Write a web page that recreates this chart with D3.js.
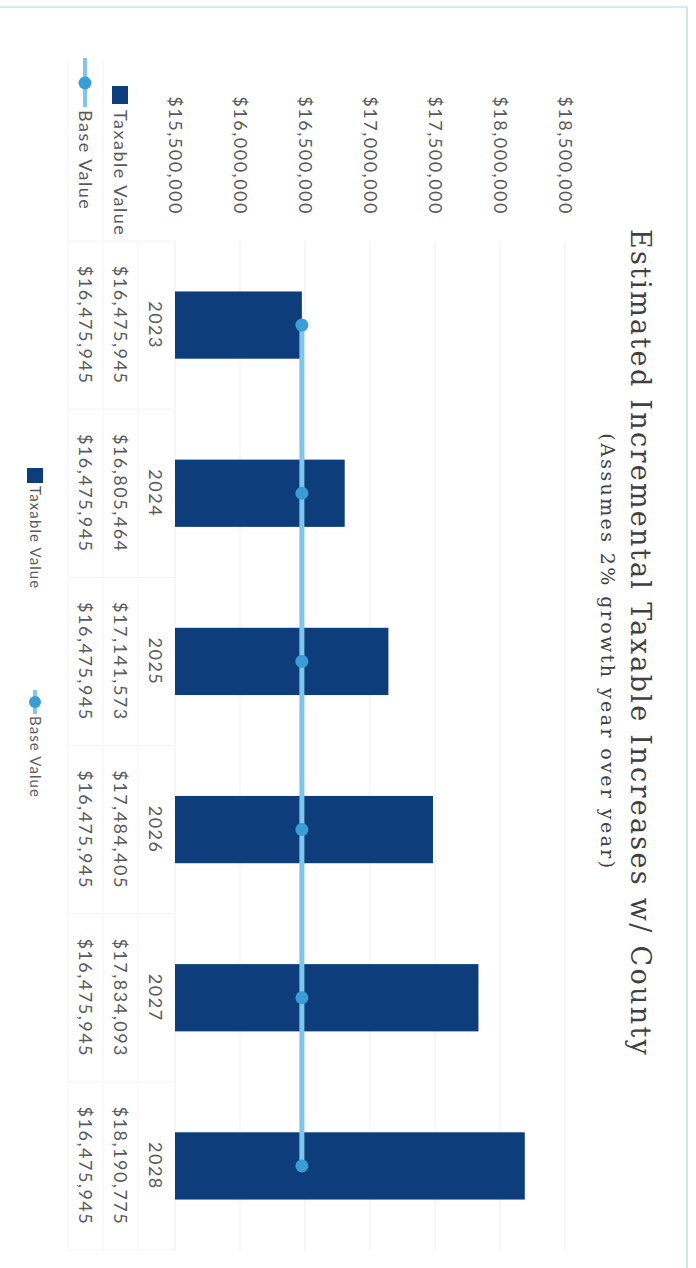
<!DOCTYPE html>
<html>
<head>
<meta charset="utf-8">
<script src="https://cdn.jsdelivr.net/npm/d3@7"></script>
<style>
  body { margin: 0; background: #fff; }
  .sans { font-family: Lato, "Open Sans", sans-serif; }
  .serif { font-family: "DejaVu Serif", serif; }
</style>
</head>
<body>
<script>
// chart data
var years = ["2023", "2024", "2025", "2026", "2027", "2028"];
var taxableValue = [16475945, 16805464, 17141573, 17484405, 17834093, 18190775];
var baseValue = [16475945, 16475945, 16475945, 16475945, 16475945, 16475945];
var yTicks = [15500000, 16000000, 16500000, 17000000, 17500000, 18000000, 18500000];
var seriesNames = ["Taxable Value", "Base Value"];

// page is a landscape chart turned a quarter turn clockwise
var W = 1268, H = 696;

var svg = d3.select("body").append("svg")
  .attr("width", 696)
  .attr("height", 1268);

// everything is drawn in the landscape frame, then rotated
var g = svg.append("g")
  .attr("transform", "translate(696,0) rotate(90)");

// card border (only top and left edges show)
g.append("line")
  .attr("x1", 7).attr("x2", 7).attr("y1", 9).attr("y2", H)
  .style("stroke", "#a9d6ef").style("stroke-width", 1);
g.append("line")
  .attr("x1", 7).attr("x2", W).attr("y1", 9).attr("y2", 9)
  .style("stroke", "#a9d6ef").style("stroke-width", 1.2);

// scales
var x = d3.scaleBand()
  .domain(years)
  .range([241, 1250])
  .paddingInner(0.6)
  .paddingOuter(0.3);

var y = d3.scaleLinear()
  .domain([15500000, 18500000])
  .range([521, 131]);

var money = d3.format("$,");

// gridlines
g.selectAll(".grid")
  .data(yTicks)
  .enter()
  .append("line")
  .attr("class", "grid")
  .attr("x1", 241)
  .attr("x2", 1250)
  .attr("y1", function(d){ return y(d); })
  .attr("y2", function(d){ return y(d); })
  .style("stroke", "#efefef")
  .style("stroke-width", 1);

// y axis labels
var yAxis = d3.axisLeft(y)
  .tickValues(yTicks)
  .tickSize(0)
  .tickPadding(0)
  .tickFormat(money);

var axis = g.append("g")
  .attr("class", "sans")
  .attr("transform", "translate(215,0)")
  .call(yAxis);
axis.select(".domain").remove();
axis.selectAll("text")
  .style("font-size", "18px")
  .style("letter-spacing", "1.5px")
  .style("fill", "#595959");

// bars
g.selectAll(".bar")
  .data(taxableValue)
  .enter()
  .append("rect")
  .attr("class", "bar")
  .attr("x", function(d, i){ return x(years[i]); })
  .attr("width", x.bandwidth())
  .attr("y", function(d){ return y(d); })
  .attr("height", function(d){ return y(15500000) - y(d); })
  .style("fill", "#0d3e7b");

// base value line
var line = d3.line()
  .x(function(d, i){ return x(years[i]) + x.bandwidth() / 2; })
  .y(function(d){ return y(d); });

g.append("path")
  .datum(baseValue)
  .attr("d", line)
  .style("fill", "none")
  .style("stroke", "#80c6ea")
  .style("stroke-width", 5);

g.selectAll(".dot")
  .data(baseValue)
  .enter()
  .append("circle")
  .attr("class", "dot")
  .attr("cx", function(d, i){ return x(years[i]) + x.bandwidth() / 2; })
  .attr("cy", function(d){ return y(d); })
  .attr("r", 6.5)
  .style("fill", "#3b9dd6");

// data table lines (barely visible)
var tableRows = [558, 593, 628];
g.selectAll(".rowline")
  .data(tableRows)
  .enter()
  .append("line")
  .attr("x1", function(d, i){ return i === 0 ? 241 : 60; })
  .attr("x2", 1250)
  .attr("y1", function(d){ return d; })
  .attr("y2", function(d){ return d; })
  .style("stroke", "#f4f4f4");

var colEdges = years.map(function(d){ return x(d) - x.step() * x.paddingInner() / 2; });
colEdges.push(1250);
g.selectAll(".colline")
  .data(colEdges)
  .enter()
  .append("line")
  .attr("x1", function(d){ return d; })
  .attr("x2", function(d){ return d; })
  .attr("y1", 521)
  .attr("y2", 628)
  .style("stroke", "#f4f4f4");

// category labels
g.selectAll(".year")
  .data(years)
  .enter()
  .append("text")
  .attr("class", "sans")
  .attr("x", function(d){ return x(d) + x.bandwidth() / 2; })
  .attr("y", 541)
  .attr("dy", "0.35em")
  .attr("text-anchor", "middle")
  .style("font-size", "18px")
  .style("letter-spacing", "1.5px")
  .style("fill", "#595959")
  .text(function(d){ return d; });

// table values
var rows = [taxableValue, baseValue];
var rowY = [576, 611];
rows.forEach(function(vals, r){
  g.selectAll(".val" + r)
    .data(vals)
    .enter()
    .append("text")
    .attr("class", "sans")
    .attr("x", function(d, i){ return x(years[i]) + x.bandwidth() / 2; })
    .attr("y", rowY[r])
    .attr("dy", "0.35em")
    .attr("text-anchor", "middle")
    .style("font-size", "18px")
    .style("letter-spacing", "1.5px")
    .style("fill", "#595959")
    .text(function(d){ return money(d); });

  g.append("text")
    .attr("class", "sans")
    .attr("x", 110)
    .attr("y", rowY[r])
    .attr("dy", "0.35em")
    .style("font-size", "18px")
    .style("letter-spacing", "1.5px")
    .style("fill", "#595959")
    .text(seriesNames[r]);
});

// row keys
g.append("rect")
  .attr("x", 86).attr("y", rowY[0] - 8)
  .attr("width", 18).attr("height", 16)
  .style("fill", "#0d3e7b");
g.append("line")
  .attr("x1", 58).attr("x2", 107)
  .attr("y1", rowY[1]).attr("y2", rowY[1])
  .style("stroke", "#80c6ea").style("stroke-width", 4);
g.append("circle")
  .attr("cx", 83).attr("cy", rowY[1]).attr("r", 6.5)
  .style("fill", "#3b9dd6");

// bottom legend
var legY = 661;
g.append("rect")
  .attr("x", 468).attr("y", legY - 8)
  .attr("width", 15).attr("height", 16)
  .style("fill", "#0d3e7b");
g.append("text")
  .attr("class", "sans")
  .attr("x", 486).attr("y", legY).attr("dy", "0.35em")
  .style("font-size", "15px")
  .style("letter-spacing", "1.1px")
  .style("fill", "#595959")
  .text(seriesNames[0]);
g.append("line")
  .attr("x1", 690).attr("x2", 714)
  .attr("y1", legY).attr("y2", legY)
  .style("stroke", "#80c6ea").style("stroke-width", 4);
g.append("circle")
  .attr("cx", 702).attr("cy", legY).attr("r", 6)
  .style("fill", "#3b9dd6");
g.append("text")
  .attr("class", "sans")
  .attr("x", 716).attr("y", legY).attr("dy", "0.35em")
  .style("font-size", "15px")
  .style("letter-spacing", "1.1px")
  .style("fill", "#595959")
  .text(seriesNames[1]);

// title and subtitle
g.append("text")
  .attr("class", "serif")
  .attr("x", 643).attr("y", 56).attr("dy", "0.35em")
  .attr("text-anchor", "middle")
  .style("font-size", "27px")
  .style("letter-spacing", "2.3px")
  .style("fill", "#404040")
  .text("Estimated Incremental Taxable Increases w/ County");
g.append("text")
  .attr("class", "serif")
  .attr("x", 652).attr("y", 88).attr("dy", "0.35em")
  .attr("text-anchor", "middle")
  .style("font-size", "19px")
  .style("letter-spacing", "2.4px")
  .style("fill", "#404040")
  .text("(Assumes 2% growth year over year)");
</script>
</body>
</html>
